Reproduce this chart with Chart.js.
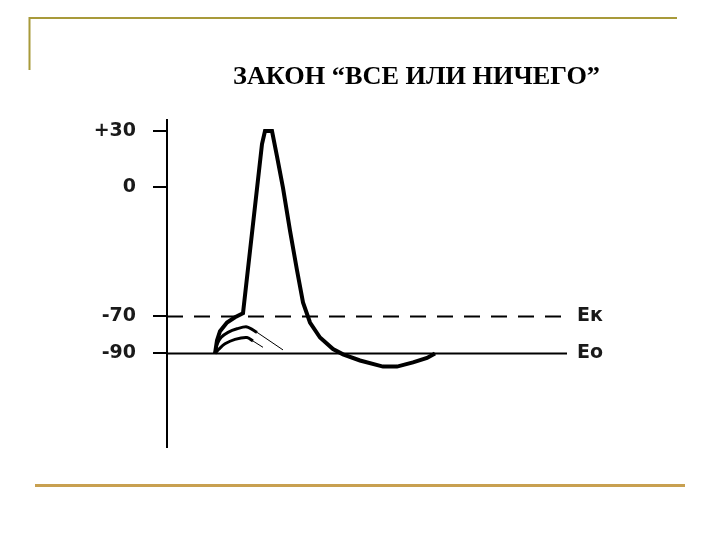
<!DOCTYPE html>
<html>
<head>
<meta charset="utf-8">
<script src="https://cdn.jsdelivr.net/npm/chart.js@4"></script>
<style>
  body { margin: 0; background: #fff; }
</style>
</head>
<body>
<canvas id="c" width="720" height="540"></canvas>
<script>
// title and labels
var titleText = 'ЗАКОН “ВСЕ ИЛИ НИЧЕГО”';
var yTickValues = [30, 0, -70, -90];
var yTickLabels = ['+30', '0', '-70', '-90'];
var refNames = ['Eк', 'Eo'];
var refValues = [-70, -90];

// action potential (time in arbitrary units, mV)
var mainT = [12, 12.5, 13.25, 15, 17, 19, 23.75, 24.5, 26.25, 27.5, 29, 30.75, 32.5, 34, 35.75, 38.25, 41.5, 44, 48.25, 54, 57.5, 61.5, 65, 67];
var mainV = [-90, -83, -78, -73.3, -70.5, -68.3, 23, 30, 30, 16.4, -0.6, -23.7, -45.1, -62.5, -73.3, -81.4, -87.6, -90.5, -93.8, -97.1, -97.1, -94.8, -92.4, -90];

// subthreshold responses
var sub1T = [12, 12.5, 13.5, 15.25, 17.5, 20, 22.5];
var sub1V = [-90, -85.2, -81.4, -78.6, -76.7, -75.7, -78.6];
var sub1TailT = [22.5, 29];
var sub1TailV = [-78.6, -88.1];
var sub2T = [12, 13, 14.5, 17, 20, 21.5];
var sub2V = [-90, -87.6, -84.8, -82.4, -81.4, -83.3];
var sub2TailT = [21.5, 24];
var sub2TailV = [-83.3, -86.7];

var xRange = [0, 100];

function pts(xs, ys) {
  return xs.map(function (x, i) { return { x: x, y: ys[i] }; });
}

function line(data, width, dash, tension) {
  return {
    data: data,
    borderColor: '#000',
    borderWidth: width,
    borderDash: dash || [],
    pointRadius: 0,
    tension: tension || 0,
    fill: false
  };
}

var decor = {
  id: 'decor',
  beforeDraw: function (chart) {
    var ctx = chart.ctx;
    ctx.save();
    ctx.lineCap = 'butt';
    ctx.strokeStyle = '#a89a3a';
    ctx.lineWidth = 2;
    ctx.beginPath();
    ctx.moveTo(29.5, 70);
    ctx.lineTo(29.5, 18);
    ctx.lineTo(677, 18);
    ctx.stroke();
    ctx.strokeStyle = '#c8a050';
    ctx.lineWidth = 3;
    ctx.beginPath();
    ctx.moveTo(35, 485.5);
    ctx.lineTo(685, 485.5);
    ctx.stroke();

    // title, squeezed like the slide
    ctx.font = 'bold 26px "Liberation Serif"';
    ctx.fillStyle = '#000';
    ctx.textAlign = 'center';
    ctx.textBaseline = 'middle';
    var w = ctx.measureText(titleText).width;
    ctx.translate(416.5, 77);
    ctx.scale(367 / w, 1);
    ctx.fillText(titleText, 0, 0);
    ctx.restore();
  },
  afterDatasetsDraw: function (chart) {
    var ctx = chart.ctx;
    var ys = chart.scales.y;
    ctx.save();
    ctx.font = 'bold 19px "DejaVu Sans"';
    ctx.fillStyle = '#1a1a1a';
    ctx.textAlign = 'left';
    ctx.textBaseline = 'middle';
    refNames.forEach(function (n, i) {
      ctx.fillText(n, chart.chartArea.right + 10, ys.getPixelForValue(refValues[i]));
    });
    ctx.restore();
  }
};

var config = {
  type: 'line',
  data: {
    datasets: [
      line(pts(xRange, [refValues[0], refValues[0]]), 2, [16, 11]),
      line(pts(xRange, [refValues[1], refValues[1]]), 2),
      line(pts(mainT, mainV), 4),
      line(pts(sub1T, sub1V), 3, null, 0.3),
      line(pts(sub1TailT, sub1TailV), 1),
      line(pts(sub2T, sub2V), 3, null, 0.3),
      line(pts(sub2TailT, sub2TailV), 1)
    ]
  },
  options: {
    responsive: false,
    animation: false,
    layout: { padding: { left: 0, top: 120, right: 153, bottom: 93 } },
    plugins: {
      legend: { display: false },
      tooltip: { enabled: false }
    },
    scales: {
      x: { type: 'linear', min: xRange[0], max: xRange[1], display: false },
      y: {
        type: 'linear',
        min: -140.5,
        max: 36,
        afterBuildTicks: function (scale) {
          scale.ticks = yTickValues.map(function (v) { return { value: v }; });
        },
        afterFit: function (scale) { scale.width = 167; },
        ticks: {
          padding: 17,
          color: '#1a1a1a',
          font: { family: 'DejaVu Sans', size: 19, weight: 'bold' },
          callback: function (v) { return yTickLabels[yTickValues.indexOf(v)]; }
        },
        grid: {
          drawOnChartArea: false,
          drawTicks: true,
          tickLength: 14,
          color: '#000',
          lineWidth: 2
        },
        border: { display: true, color: '#000', width: 2 }
      }
    }
  },
  plugins: [decor]
};

var chart = new Chart(document.getElementById('c'), config);
</script>
</body>
</html>
